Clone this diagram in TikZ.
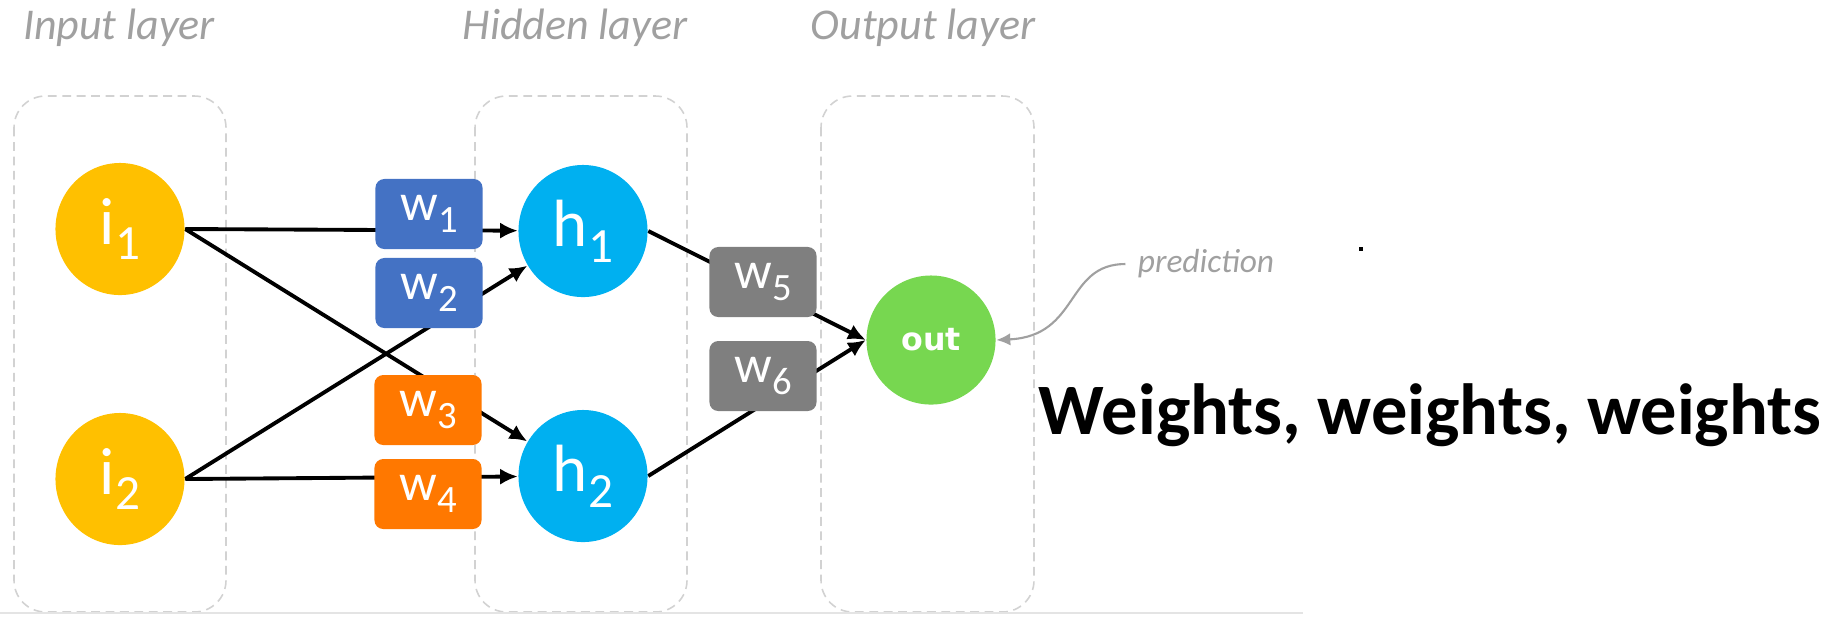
\documentclass[tikz,border=0pt]{standalone}
\usepackage{fontspec}
\setmainfont{Carlito}
\newfontfamily\outfont{DejaVu Sans}
\usetikzlibrary{shapes.geometric,arrows.meta,backgrounds}

\definecolor{inputc}{HTML}{FFC000}
\definecolor{hiddenc}{HTML}{00B0F0}
\definecolor{outc}{HTML}{77D750}
\definecolor{wblue}{HTML}{4472C4}
\definecolor{worange}{HTML}{FF7800}
\definecolor{wgray}{HTML}{7F7F7F}
\definecolor{framec}{HTML}{D2D2D2}
\definecolor{titlec}{HTML}{A0A0A0}
\definecolor{basec}{HTML}{E4E4E4}

% lowered index digit, as in w1, h1
\newcommand{\lowidx}[2][11]{\raisebox{-0.5ex}{\fontsize{#1}{#1}\selectfont #2}}

\begin{document}
\begin{tikzpicture}[x=0.01cm,y=-0.01cm,
  neuron/.style={ellipse, minimum width=1.29cm, minimum height=1.32cm, inner sep=0pt,
    text=white, font=\fontsize{19}{19}\selectfont},
  weight/.style={rectangle, rounded corners=2.5pt, minimum width=1.07cm, minimum height=0.70cm,
    inner sep=0pt, text=white, font=\fontsize{15}{15}\selectfont},
  layerbox/.style={draw=framec, line width=0.45pt, dash pattern=on 2.5pt off 1.6pt, rounded corners=9pt},
  title/.style={text=titlec, font=\itshape\fontsize{12.5}{12.5}\selectfont},
  link/.style={line width=1.1pt, draw=black},
  arrowed/.style={-{Latex[length=5pt,width=4.6pt]}}
]
\useasboundingbox (0,0) rectangle (1840,617);

% layer titles
\node[title] (tin) at (119,28) {Input layer};
\node[title] (thid) at (575,28) {Hidden layer};
\node[title] (tout) at (923,28) {Output layer};

% neurons
\node[neuron, fill=inputc] (i1) at (120,229) {i\lowidx[14]{1}};
\node[neuron, fill=inputc] (i2) at (120,479) {i\lowidx[14]{2}};
\node[neuron, fill=hiddenc] (h1) at (583,231) {h\lowidx[14]{1}};
\node[neuron, fill=hiddenc] (h2) at (583,476) {h\lowidx[14]{2}};
\node[circle, fill=outc, minimum size=1.29cm, inner sep=0pt, text=white,
  font=\outfont\bfseries\fontsize{9}{9}\selectfont] (out) at (931,340) {out};

% weights
\node[weight, fill=wblue] (w1) at (429,214) {w\lowidx{1}};
\node[weight, fill=wblue] (w2) at (429,293) {w\lowidx{2}};
\node[weight, fill=worange] (w3) at (428,410) {w\lowidx{3}};
\node[weight, fill=worange] (w4) at (428,494) {w\lowidx{4}};
\node[weight, fill=wgray] (w5) at (763,282) {w\lowidx{5}};
\node[weight, fill=wgray] (w6) at (763,376) {w\lowidx{6}};

% annotation
\node[title, font=\itshape\fontsize{9.5}{9.5}\selectfont] (pred) at (1206,264) {prediction};
\draw[titlec, line width=0.6pt, -{Latex[length=4pt,width=3.5pt]}]
  (pred.west) .. controls (1065,264) and (1080,336) .. (out.east);

\fill[black] (1359,247) rectangle (1363,251);

\node[anchor=base, font=\bfseries\fontsize{20.6}{20.6}\selectfont] (caption) at (1430,434)
  {Weights, weights, weights};

\begin{scope}[on background layer]
  % dashed layer frames
  \draw[layerbox] (14,96) rectangle (226,612);
  \draw[layerbox] (475,96) rectangle (687,612);
  \draw[layerbox] (821,96) rectangle (1034,612);
  \draw[basec, line width=0.6pt] (0,613) -- (1303,613);
  % connections, passing under the weight boxes
  \draw[link, arrowed] (i1.east) -- (h1);
  \draw[link, arrowed] (i1.east) -- (h2);
  \draw[link, arrowed] (i2.east) -- (h1);
  \draw[link, arrowed] (i2.east) -- (h2);
  \draw[link, arrowed] (h1.east) -- (out.west);
  \draw[link, arrowed] (h2.east) -- (out.west);
\end{scope}
\end{tikzpicture}
\end{document}
